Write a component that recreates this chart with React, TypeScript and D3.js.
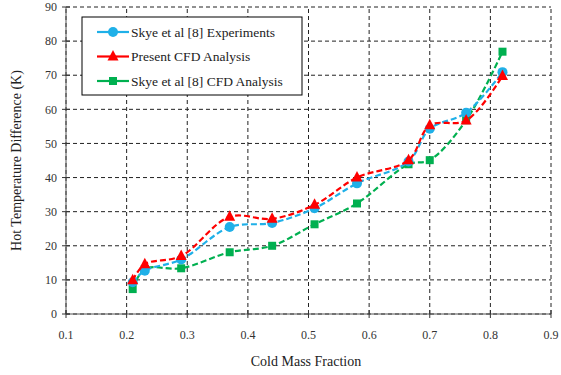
import React from "react";
import * as d3 from "d3";

const xValues = [0.21, 0.23, 0.29, 0.37, 0.44, 0.51, 0.58, 0.665, 0.70, 0.76, 0.82];
const experiments = [9.3, 12.7, 16.0, 25.5, 26.7, 31.0, 38.3, 44.7, 54.3, 59.0, 70.9];
const presentCFD = [9.9, 14.6, 17.0, 28.5, 27.9, 32.0, 40.0, 45.1, 55.3, 56.7, 69.8];
const skyeCFD = [7.3, 13.2, 13.4, 18.1, 20.0, 26.3, 32.4, 43.9, 45.1, 56.8, 76.9];
const xTicks = [0.1, 0.2, 0.3, 0.4, 0.5, 0.6, 0.7, 0.8, 0.9];
const yTicks = [0, 10, 20, 30, 40, 50, 60, 70, 80, 90];
const seriesNames = ["Skye et al [8] Experiments", "Present CFD Analysis", "Skye et al [8] CFD Analysis"];
const seriesColors = ["#1FB0E8", "#FF0000", "#00B050"];

export default function App() {
  const W = 561, H = 375;
  const x = d3.scaleLinear().domain([0.1, 0.9]).range([66, 551]);
  const y = d3.scaleLinear().domain([0, 90]).range([314, 7]);
  const series = [experiments, presentCFD, skyeCFD];
  const line = d3
    .line<[number, number]>()
    .x((d) => x(d[0]))
    .y((d) => y(d[1]))
    .curve(d3.curveCatmullRom.alpha(0.5));
  const font = "Liberation Serif";
  const drawOrder = [2, 0, 1];

  const marker = (i: number, cx: number, cy: number, key: string) => {
    const c = seriesColors[i];
    if (i === 0) return <circle key={key} cx={cx} cy={cy} r={5} fill={c} />;
    if (i === 1)
      return (
        <path
          key={key}
          d={`M${cx},${cy - 6.5} L${cx + 5.5},${cy + 4} L${cx - 5.5},${cy + 4} Z`}
          fill={c}
        />
      );
    return <rect key={key} x={cx - 4} y={cy - 4} width={8} height={8} fill={c} />;
  };

  return (
    <svg
      width={W}
      height={H}
      style={{ position: "absolute", left: 0, top: 0, background: "#fff", fontFamily: font }}
    >
      <rect x={0} y={0} width={W} height={H} fill="#fff" />
      {/* grid */}
      {xTicks.map((t) => (
        <line
          key={"gx" + t}
          x1={x(t)}
          x2={x(t)}
          y1={y(0)}
          y2={y(90)}
          stroke="#222"
          strokeWidth={1}
          strokeDasharray="4,3"
        />
      ))}
      {yTicks.map((t) => (
        <line
          key={"gy" + t}
          x1={x(0.1)}
          x2={x(0.9)}
          y1={y(t)}
          y2={y(t)}
          stroke="#222"
          strokeWidth={1}
          strokeDasharray="4,3"
        />
      ))}
      {/* axes */}
      <line x1={x(0.1)} x2={x(0.1)} y1={y(0)} y2={y(90)} stroke="#555" strokeWidth={1} />
      <line x1={x(0.1)} x2={x(0.9)} y1={y(0)} y2={y(0)} stroke="#555" strokeWidth={1} />
      {yTicks.map((t) => (
        <line key={"ty" + t} x1={x(0.1) - 4} x2={x(0.1) + 4} y1={y(t)} y2={y(t)} stroke="#333" />
      ))}
      {xTicks.map((t) => (
        <line key={"tx" + t} x1={x(t)} x2={x(t)} y1={y(0) - 4} y2={y(0) + 4} stroke="#333" />
      ))}
      {yTicks.map((t) => (
        <text
          key={"ly" + t}
          x={x(0.1) - 9}
          y={y(t)}
          dy="0.35em"
          textAnchor="end"
          fontSize={12}
          fill="#333"
        >
          {t}
        </text>
      ))}
      {xTicks.map((t) => (
        <text
          key={"lx" + t}
          x={x(t)}
          y={y(0) + 25}
          textAnchor="middle"
          fontSize={12}
          fill="#333"
        >
          {t.toFixed(1)}
        </text>
      ))}
      <text x={306} y={366} textAnchor="middle" fontSize={14} fill="#222">
        Cold Mass Fraction
      </text>
      <text
        transform={`translate(21,${y(45)}) rotate(-90)`}
        textAnchor="middle"
        fontSize={14}
        fill="#222"
      >
        Hot Temperature Difference (K)
      </text>
      {/* series */}
      {drawOrder.map((i) => {
        const pts: [number, number][] = xValues.map((xv, k) => [xv, series[i][k]]);
        return (
          <g key={"s" + i}>
            <path
              d={line(pts) || ""}
              fill="none"
              stroke={seriesColors[i]}
              strokeWidth={2.2}
              strokeDasharray="6,3"
            />
            {pts.map((p, k) => marker(i, x(p[0]), y(p[1]), "m" + i + "-" + k))}
          </g>
        );
      })}
      {/* legend */}
      <rect x={82} y={17} width={220} height={78} fill="#fff" stroke="#000" strokeWidth={1} />
      {seriesNames.map((name, i) => {
        const ly = 32 + i * 24.5;
        return (
          <g key={"lg" + i}>
            <line x1={97} x2={129} y1={ly} y2={ly} stroke={seriesColors[i]} strokeWidth={2.2} />
            {marker(i, 113, ly, "lm" + i)}
            <text x={131} y={ly} dy="0.35em" fontSize={13.5} fill="#222">
              {name}
            </text>
          </g>
        );
      })}
    </svg>
  );
}
